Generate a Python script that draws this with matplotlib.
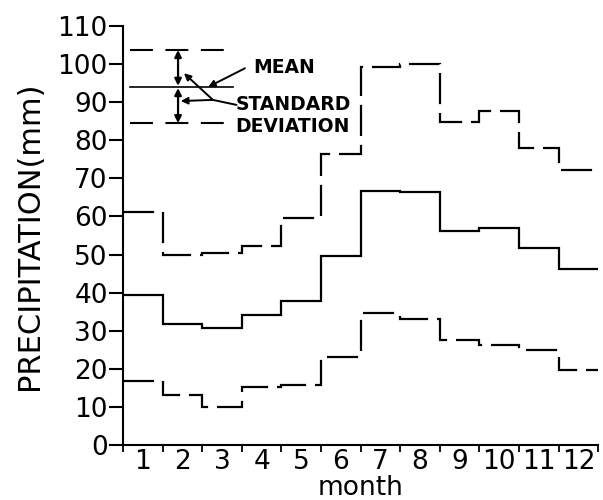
import numpy as np
import matplotlib
matplotlib.use("Agg")
import matplotlib.pyplot as plt

months = [str(m) for m in range(1, 13)]
mean_precip = [39.3, 31.8, 30.8, 34.0, 37.9, 49.6, 66.7, 66.3, 56.2, 57.0, 51.6, 46.2]
upper_sd = [61.2, 49.9, 50.4, 52.2, 59.6, 76.4, 99.3, 100.0, 84.9, 87.7, 77.9, 72.2]
lower_sd = [16.8, 13.1, 10.0, 15.1, 15.7, 23.0, 34.6, 33.2, 27.6, 26.2, 25.0, 19.7]
yticks = list(range(0, 111, 10))

# key drawn inside the plot
key_mean = 94.0
key_upper = 103.7
key_lower = 84.5

plt.rcParams['font.family'] = ['DejaVu Sans']

fig = plt.figure(figsize=(6.03, 5.0), dpi=100)
ax = fig.add_axes([0.204, 0.11, 0.788, 0.838])

edges = np.arange(0.5, 13.0, 1.0)
dash = (0, (14, 4))
ax.stairs(upper_sd, edges, baseline=None, color='black', lw=1.6, linestyle=dash)
ax.stairs(mean_precip, edges, baseline=None, color='black', lw=1.6)
ax.stairs(lower_sd, edges, baseline=None, color='black', lw=1.6, linestyle=dash)

# key
ax.plot([0.68, 3.28], [key_upper, key_upper], color='black', lw=1.5, linestyle=(0, (11, 6)))
ax.plot([0.68, 3.28], [key_mean, key_mean], color='black', lw=1.2)
ax.plot([0.68, 3.28], [key_lower, key_lower], color='black', lw=1.5, linestyle=(0, (11, 6)))
arr = dict(arrowstyle='<|-|>', color='black', lw=1.6, mutation_scale=10, shrinkA=0, shrinkB=0)
ax.annotate('', xy=(1.89, key_upper), xytext=(1.89, key_mean + 0.3), arrowprops=arr)
ax.annotate('', xy=(1.89, key_lower), xytext=(1.89, key_mean - 0.3), arrowprops=arr)

one = dict(arrowstyle='-|>', color='black', lw=1.4, mutation_scale=10, shrinkA=0, shrinkB=0)
ax.annotate('', xy=(2.65, key_mean), xytext=(3.58, 98.9), arrowprops=one)
ax.text(3.78, 99.0, 'MEAN', fontsize=13.5, fontweight='bold', va='center', ha='left')
ax.text(4.79, 86.4, 'STANDARD\nDEVIATION', fontsize=13.5, fontweight='bold', va='center',
        ha='center', multialignment='center', linespacing=1.2)
ax.plot([3.36, 2.77], [89.3, 90.6], color='black', lw=1.4)
ax.annotate('', xy=(2.04, 97.6), xytext=(2.77, 90.6), arrowprops=one)
ax.annotate('', xy=(1.96, 90.3), xytext=(2.77, 90.6), arrowprops=one)

ax.set_xlim(0.5, 12.5)
ax.set_ylim(0, 110)
ax.spines['top'].set_visible(False)
ax.spines['right'].set_visible(False)
ax.spines['left'].set_linewidth(1.5)
ax.spines['bottom'].set_linewidth(1.5)

ax.set_yticks(yticks)
ax.set_yticklabels([str(v) for v in yticks], fontsize=19)
ax.tick_params(axis='y', length=10, width=1.5, direction='out', pad=1)

ax.set_xticks(range(1, 13))
ax.set_xticklabels(months, fontsize=19)
ax.set_xticks(edges, minor=True)
ax.tick_params(axis='x', which='major', length=0, pad=3)
ax.tick_params(axis='x', which='minor', length=5, width=1.3, direction='out')

ax.set_xlabel('month', fontsize=19, labelpad=0)
ax.set_ylabel('PRECIPITATION(mm)', fontsize=22, labelpad=10)

fig.savefig('out.png', dpi=100)
